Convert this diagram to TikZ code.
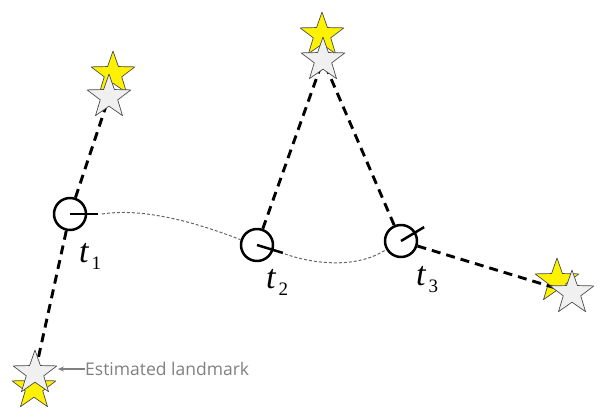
\documentclass[tikz,border=0pt]{standalone}
\usepackage{fontspec}
\setmainfont{Liberation Serif}
\newfontfamily\notefont{Open Sans}
\usetikzlibrary{shapes.geometric,arrows.meta}

\tikzset{
  pose/.style={circle, draw, fill=white, line width=2.5pt, minimum size=32pt, inner sep=0pt},
  head/.style={line width=2.5pt},
  sight/.style={line width=2.9pt, dash pattern=on 9pt off 6pt},
  traj/.style={line width=1pt, black!60, dash pattern=on 3pt off 2pt},
  lmk/.style={star, star points=5, star point ratio=2.5, minimum size=46pt, inner sep=0pt, draw=black!70, line width=0.7pt},
  truelmk/.style={lmk, fill=yellow},
  estlmk/.style={lmk, fill=black!6},
  tlabel/.style={anchor=base west, inner sep=0pt, font=\fontsize{34}{34}\selectfont\itshape},
  note/.style={black!50, line width=1.2pt, -{Stealth[length=6pt,width=5pt]}},
}
\newcommand{\posename}[1]{t\kern3pt\raisebox{-7pt}{\fontsize{19}{19}\selectfont\upshape #1}}

\begin{document}
\begin{tikzpicture}[x=1pt, y=-1pt, line cap=butt, line join=round]

  %% robot poses
  \node[pose] (t1) at (70,214) {};
  \node[pose] (t2) at (257,245) {};
  \node[pose] (t3) at (401,241) {};

  %% landmarks (true / estimated)
  \node[truelmk] (l1) at (113,74) {};
  \node[truelmk] (l2) at (322,35) {};
  \node[truelmk] (l3) at (557,281) {};
  \node[truelmk] (l4) at (34,388) {};

  \coordinate (e1pos) at (109,97);
  \coordinate (e2pos) at (323,60);
  \coordinate (e3pos) at (572,293);
  \coordinate (e4pos) at (35,373);

  %% observations
  \draw[sight] (t1) -- (e1pos);
  \draw[sight] (t1) -- (e4pos);
  \draw[sight] (t2) -- (e2pos);
  \draw[sight] (t3) -- (e2pos);
  \draw[sight] (t3) -- (e3pos);

  \node[estlmk] (e1) at (e1pos) {};
  \node[estlmk] (e2) at (e2pos) {};
  \node[estlmk] (e3) at (e3pos) {};
  \node[estlmk] (e4) at (e4pos) {};

  %% headings
  \draw[head] (t1.center) -- ++(0:28) coordinate (h1);
  \draw[head] (t2.center) -- ++(17:27) coordinate (h2);
  \draw[head] (t3.center) -- ++(-31:27) coordinate (h3);

  %% trajectory
  \draw[traj] (h1) ++(4,0) .. controls (140,208) and (190,220) .. (t2.162);
  \draw[traj] (h2) ++(2,1) .. controls (310,263) and (355,270) .. (t3.210);

  %% labels
  \node[tlabel] (n1) at (79,262) {\posename{1}};
  \node[tlabel] (n2) at (266,288) {\posename{2}};
  \node[tlabel] (n3) at (416,285) {\posename{3}};

  \node[anchor=west, inner sep=0pt, text=black!50, font=\notefont\fontsize{17.5}{21}\selectfont] (lbl) at (85,369) {Estimated landmark};
  \draw[note] (lbl.west) -- (lbl.west -| e4.outer point 5);

  \pgfresetboundingbox
  \path[use as bounding box] (0,0) rectangle (605,420);
\end{tikzpicture}
\end{document}
